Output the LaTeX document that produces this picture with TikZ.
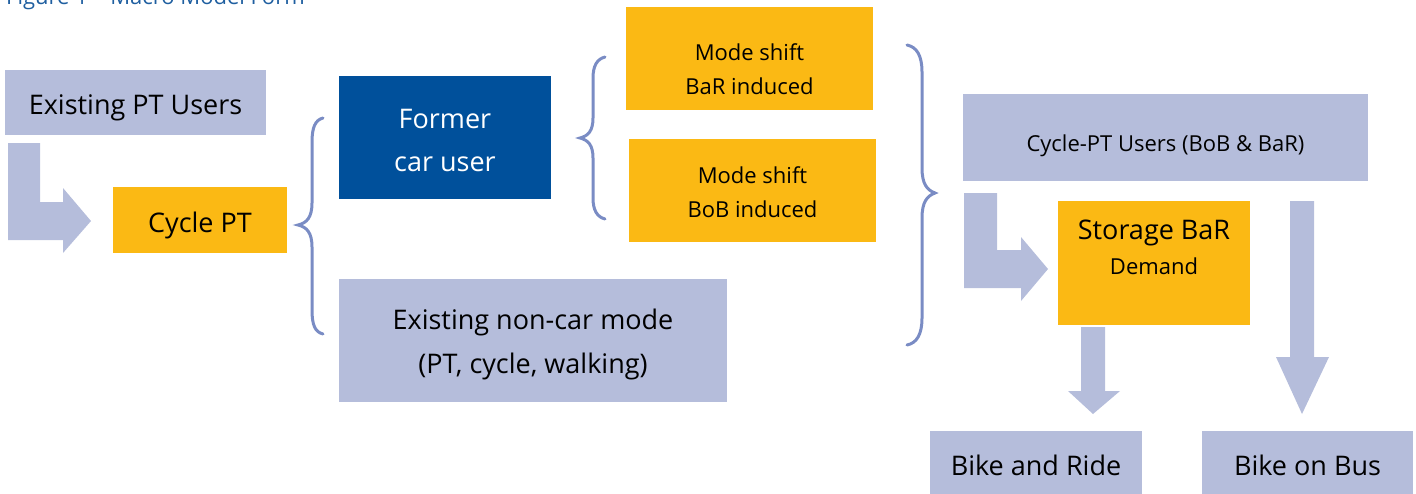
\documentclass[tikz,border=0pt]{standalone}
\usepackage{fontspec}
\setmainfont{Open Sans}
\definecolor{lav}{RGB}{181,189,219}
\definecolor{org}{RGB}{251,185,20}
\definecolor{dblue}{RGB}{0,80,155}
\definecolor{brc}{RGB}{122,140,196}
\definecolor{ttl}{RGB}{31,95,160}
\newcommand{\bigtxt}{\fontsize{27}{40}\selectfont}
\newcommand{\smltxt}{\fontsize{22}{30}\selectfont}
\begin{document}
\begin{tikzpicture}[x=1pt,y=-1pt,
  box/.style={rectangle,inner sep=0pt},
  lavbox/.style={box,fill=lav},
  orgbox/.style={box,fill=org},
  bluebox/.style={box,fill=dblue},
  btxt/.style={anchor=base,inner sep=0pt,font=\bigtxt,text=black},
  stxt/.style={anchor=base,inner sep=0pt,font=\smltxt,text=black},
  blockarrow/.style={fill=lav,draw=none},
  bracepath/.style={draw=brc,line width=3pt,line cap=round,fill=none}]
\useasboundingbox (0,0) rectangle (1416,493);
\node[anchor=base west,inner sep=0pt,text=ttl,font=\fontsize{22}{26}\selectfont] (title) at (6,4) {Figure 1 -- Macro Model Form};
% boxes
\node[lavbox,minimum width=261,minimum height=65] (ptusers) at (135.5,102.5) {};
\node[orgbox,minimum width=174,minimum height=66] (cyclept) at (200,220) {};
\node[bluebox,minimum width=212,minimum height=123] (former) at (445,137.5) {};
\node[lavbox,minimum width=388,minimum height=123] (noncar) at (533,340.5) {};
\node[orgbox,minimum width=247,minimum height=103] (bar) at (749.5,58.5) {};
\node[orgbox,minimum width=247,minimum height=103] (bob) at (752.5,190.5) {};
\node[lavbox,minimum width=405,minimum height=87] (cptusers) at (1165.5,137.5) {};
\node[orgbox,minimum width=192,minimum height=124] (storage) at (1154,263) {};
\node[lavbox,minimum width=212,minimum height=69] (bikeride) at (1036,465.5) {};
\node[lavbox,minimum width=211,minimum height=69] (bikebus) at (1307.5,465.5) {};
% texts
\node[btxt] (ptusers-t) at ([yshift=-11.5pt]ptusers.center) {Existing PT Users};
\node[btxt] (cyclept-t) at ([yshift=-12pt]cyclept.center) {Cycle PT};
\node[btxt,text=white] (former-t1) at (former.center |- 0,128) {Former};
\node[btxt,text=white] (former-t2) at (former.center |- 0,171) {car user};
\node[btxt] (noncar-t1) at (noncar.center |- 0,329) {Existing non-car mode};
\node[btxt] (noncar-t2) at (noncar.center |- 0,373) {(PT, cycle, walking)};
\node[stxt] (bar-t1) at (bar.center |- 0,60) {Mode shift};
\node[stxt] (bar-t2) at (bar.center |- 0,94) {BaR induced};
\node[stxt] (bob-t1) at (bob.center |- 0,183) {Mode shift};
\node[stxt] (bob-t2) at (bob.center |- 0,217) {BoB induced};
\node[stxt] (cptusers-t) at ([yshift=-13.5pt]cptusers.center) {Cycle-PT Users (BoB \& BaR)};
\node[btxt] (storage-t1) at (storage.center |- 0,239) {Storage BaR};
\node[stxt] (storage-t2) at (storage.center |- 0,274) {Demand};
\node[btxt] (bikeride-t) at ([yshift=-9.5pt]bikeride.center) {Bike and Ride};
\node[btxt] (bikebus-t) at ([yshift=-9.5pt]bikebus.center) {Bike on Bus};
% block arrows
\fill[blockarrow] (8,143) -- (40,143) -- (40,202) -- (63,202) -- (63,188) -- (91,221) -- (63,253) -- (63,240) -- (8,240) -- cycle;
\fill[blockarrow] (964,193) -- (997,193) -- (997,250) -- (1021,250) -- (1021,237) -- (1048,269) -- (1021,301) -- (1021,288) -- (964,288) -- cycle;
\fill[blockarrow] (1081,327) -- (1105,327) -- (1105,391) -- (1120,391) -- (1093,414) -- (1068,391) -- (1081,391) -- cycle;
\fill[blockarrow] (1290,201) -- (1314,201) -- (1314,357) -- (1329,357) -- (1302,414) -- (1276,357) -- (1290,357) -- cycle;
% braces
\draw[bracepath] (323,118) .. controls (315,120) and (312,128) .. (312,142) -- (312,203) .. controls (312,217) and (307,223) .. (298,225) .. controls (307,227) and (312,233) .. (312,247) -- (312,310) .. controls (312,325) and (315,332) .. (323,334);
\draw[bracepath] (605,57) .. controls (597,59) and (593,66) .. (593,78) -- (593,118) .. controls (593,131) and (588,136) .. (580,138) .. controls (588,140) and (593,145) .. (593,158) -- (593,198) .. controls (593,210) and (597,217) .. (605,219);
\draw[bracepath] (907,45) .. controls (917,47) and (922,56) .. (922,72) -- (922,168) .. controls (922,184) and (927,190) .. (935,193) .. controls (927,196) and (922,202) .. (922,218) -- (922,318) .. controls (922,334) and (917,343) .. (907,345);
\end{tikzpicture}
\end{document}
